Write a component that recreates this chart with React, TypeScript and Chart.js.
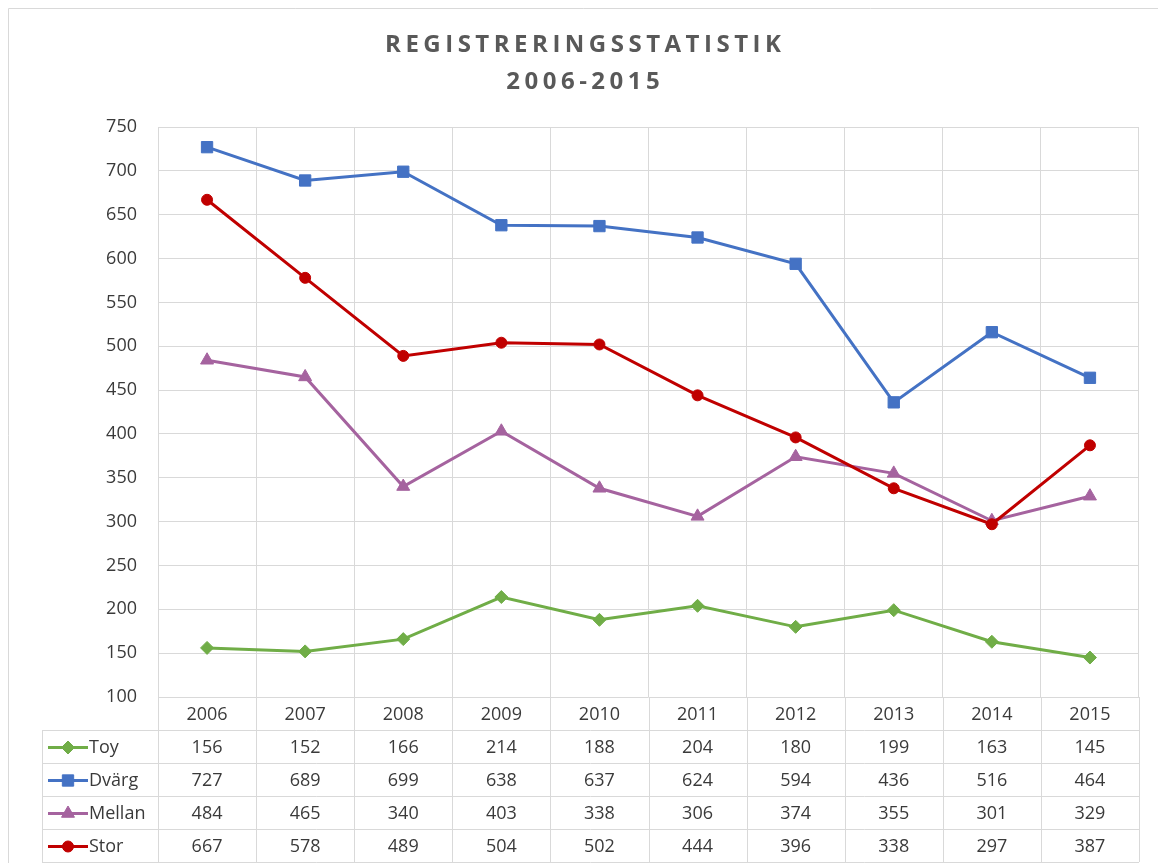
import React, { useEffect, useRef } from "react";
import { Chart, registerables } from "chart.js";

Chart.register(...registerables);

const titleLines = ["REGISTRERINGSSTATISTIK", "2006-2015"];
const categories = ["2006", "2007", "2008", "2009", "2010", "2011", "2012", "2013", "2014", "2015"];
const seriesNames = ["Toy", "Dvärg", "Mellan", "Stor"];
const toy = [156, 152, 166, 214, 188, 204, 180, 199, 163, 145];
const dvarg = [727, 689, 699, 638, 637, 624, 594, 436, 516, 464];
const mellan = [484, 465, 340, 403, 338, 306, 374, 355, 301, 329];
const stor = [667, 578, 489, 504, 502, 444, 396, 338, 297, 387];
const yMin = 100;
const yMax = 750;
const yStep = 50;

const seriesValues = [toy, dvarg, mellan, stor];
const seriesColors = ["#70AD47", "#4472C4", "#A5639F", "#C00000"];
const seriesPoint = ["rectRot", "rect", "triangle", "circle"];
const seriesRadius = [6.5, 8, 7.5, 5.5];
const seriesOrder = [3, 2, 1, 0];

const FONT = "'Open Sans', 'Noto Sans', sans-serif";
const TEXT = "#3a3a3a";
const GRID = "#d9d9d9";

function drawMarker(ctx: CanvasRenderingContext2D, style: string, x: number, y: number, r: number, color: string) {
  ctx.save();
  ctx.fillStyle = color;
  ctx.strokeStyle = color;
  ctx.lineWidth = 1;
  ctx.beginPath();
  if (style === "rect") {
    const s = Math.SQRT1_2 * r;
    ctx.rect(x - s, y - s, 2 * s, 2 * s);
  } else if (style === "rectRot") {
    ctx.moveTo(x - r, y);
    ctx.lineTo(x, y - r);
    ctx.lineTo(x + r, y);
    ctx.lineTo(x, y + r);
    ctx.closePath();
  } else if (style === "triangle") {
    const a = Math.PI / 2;
    ctx.moveTo(x + Math.cos(-a) * r, y + Math.sin(-a) * r);
    ctx.lineTo(x + Math.cos(-a + (2 * Math.PI) / 3) * r, y + Math.sin(-a + (2 * Math.PI) / 3) * r);
    ctx.lineTo(x + Math.cos(-a + (4 * Math.PI) / 3) * r, y + Math.sin(-a + (4 * Math.PI) / 3) * r);
    ctx.closePath();
  } else {
    ctx.arc(x, y, r, 0, Math.PI * 2);
  }
  ctx.fill();
  ctx.stroke();
  ctx.restore();
}

const tablePlugin = {
  id: "dataTableAndTitle",
  afterDraw(chart: any) {
    const ctx: CanvasRenderingContext2D = chart.ctx;
    const ca = chart.chartArea;
    const xs = chart.scales.x;
    const rowH = 33;
    const legendLeft = 34;
    const nRows = seriesNames.length + 1;
    const bottom = ca.bottom + rowH * nRows;

    ctx.save();
    // outer border (left/top)
    ctx.strokeStyle = GRID;
    ctx.lineWidth = 1;
    ctx.beginPath();
    ctx.moveTo(0.5, chart.height);
    ctx.lineTo(0.5, 0.5);
    ctx.lineTo(chart.width, 0.5);
    ctx.stroke();

    // title
    ctx.fillStyle = "#595959";
    ctx.font = `bold 24px ${FONT}`;
    ctx.textAlign = "center";
    ctx.textBaseline = "middle";
    (ctx as any).letterSpacing = "4.5px";
    const cx = chart.width / 2 + 2.25;
    ctx.fillText(titleLines[0], cx, 37);
    ctx.fillText(titleLines[1], cx, 74);
    (ctx as any).letterSpacing = "0px";

    // table grid
    ctx.strokeStyle = GRID;
    ctx.lineWidth = 1;
    ctx.beginPath();
    const n = categories.length;
    const colW = (ca.right - ca.left) / n;
    for (let i = 0; i <= n; i++) {
      const x = Math.round(ca.left + i * colW) + 0.5;
      ctx.moveTo(x, ca.bottom);
      ctx.lineTo(x, bottom);
    }
    for (let k = 1; k <= nRows; k++) {
      const y = Math.round(ca.bottom + k * rowH) + 0.5;
      ctx.moveTo(legendLeft, y);
      ctx.lineTo(ca.right, y);
    }
    const lx = legendLeft + 0.5;
    ctx.moveTo(lx, ca.bottom + rowH);
    ctx.lineTo(lx, bottom);
    ctx.stroke();

    // category labels
    ctx.fillStyle = TEXT;
    ctx.font = `18px ${FONT}`;
    ctx.textAlign = "center";
    ctx.textBaseline = "middle";
    categories.forEach((c, i) => {
      ctx.fillText(c, xs.getPixelForValue(i), ca.bottom + rowH / 2 + 1);
    });

    // rows
    seriesNames.forEach((name, r) => {
      const yc = ca.bottom + rowH * (r + 1) + rowH / 2 + 1;
      ctx.save();
      ctx.strokeStyle = seriesColors[r];
      ctx.lineWidth = 3;
      ctx.beginPath();
      ctx.moveTo(legendLeft + 6, yc);
      ctx.lineTo(legendLeft + 46, yc);
      ctx.stroke();
      ctx.restore();
      drawMarker(ctx, seriesPoint[r], legendLeft + 26, yc, seriesRadius[r], seriesColors[r]);
      ctx.fillStyle = TEXT;
      ctx.textAlign = "left";
      ctx.fillText(name, legendLeft + 47, yc);
      ctx.textAlign = "center";
      seriesValues[r].forEach((v, i) => {
        ctx.fillText(String(v), xs.getPixelForValue(i), yc);
      });
    });
    ctx.restore();
  },
};

export default function App() {
  const ref = useRef<HTMLCanvasElement | null>(null);
  useEffect(() => {
    if (!ref.current) return;
    const chart = new Chart(ref.current, {
      type: "line",
      data: {
        labels: categories,
        datasets: seriesNames.map((name, i) => ({
          label: name,
          data: seriesValues[i],
          borderColor: seriesColors[i],
          backgroundColor: seriesColors[i],
          pointBackgroundColor: seriesColors[i],
          pointBorderColor: seriesColors[i],
          pointStyle: seriesPoint[i] as any,
          pointRadius: seriesRadius[i],
          pointBorderWidth: 1,
          borderWidth: 3,
          tension: 0,
          fill: false,
          order: seriesOrder[i],
        })),
      },
      options: {
        animation: false,
        responsive: true,
        maintainAspectRatio: false,
        layout: { padding: { top: 119, right: 19, bottom: 166, left: 0 } },
        plugins: {
          legend: { display: false },
          tooltip: { enabled: false },
          title: { display: false },
        },
        scales: {
          x: {
            type: "category",
            offset: true,
            grid: { offset: true, drawTicks: false, color: GRID, lineWidth: 1 },
            border: { display: false },
            ticks: { display: false },
          },
          y: {
            min: yMin,
            max: yMax,
            afterFit: (scale: any) => {
              scale.width = 150;
            },
            grid: { drawTicks: false, color: GRID, lineWidth: 1 },
            border: { display: false },
            ticks: {
              stepSize: yStep,
              padding: 21,
              color: TEXT,
              font: { family: FONT, size: 18 },
            },
          },
        },
      },
      plugins: [tablePlugin],
    });
    return () => chart.destroy();
  }, []);
  return (
    <div style={{ position: "absolute", left: 8, top: 8, width: 1150, height: 855 }}>
      <canvas ref={ref} />
    </div>
  );
}
